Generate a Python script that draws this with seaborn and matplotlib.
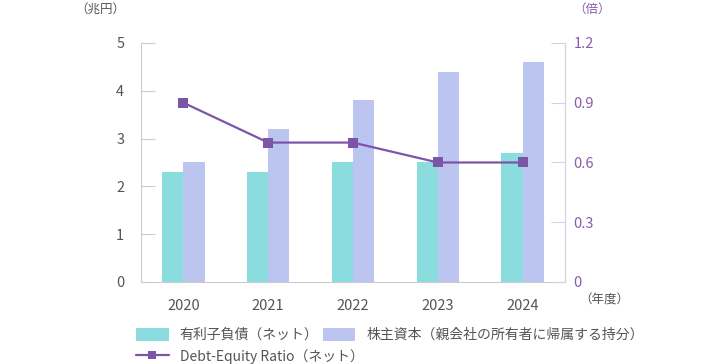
import matplotlib
matplotlib.use("Agg")
import matplotlib.pyplot as plt
import seaborn as sns
import pandas as pd
import numpy as np
from matplotlib.patches import Patch
from matplotlib.lines import Line2D

years = ["2020", "2021", "2022", "2023", "2024"]
debt = [2.3, 2.3, 2.5, 2.5, 2.7]
equity = [2.5, 3.2, 3.8, 4.4, 4.6]
de_ratio = [0.9, 0.7, 0.7, 0.6, 0.6]

debt_label = "有利子負債（ネット）"
equity_label = "株主資本（親会社の所有者に帰属する持分）"
ratio_label = "Debt-Equity Ratio（ネット）"

c_debt = "#8adcdf"
c_equity = "#bcc4f0"
c_line = "#7d55a8"
c_text = "#555555"
c_axis = "#cccccc"

sns.set_theme(style="white")
plt.rcParams["font.family"] = ["Noto Sans CJK JP", "DejaVu Sans"]

df = pd.DataFrame({
    "year": years * 2,
    "value": debt + equity,
    "kind": [debt_label] * len(years) + [equity_label] * len(years),
})

fig = plt.figure(figsize=(7.04, 3.64), dpi=100)
ax = fig.add_axes([0.2003, 0.2253, 0.6023, 0.6566])

sns.barplot(data=df, x="year", y="value", hue="kind", ax=ax,
            palette=[c_debt, c_equity], saturation=1, width=0.5, gap=0,
            linewidth=0, legend=False)
ax.set_xlim(-0.5, len(years) - 0.5)
ax.set_ylim(0, 5)
ax.set_yticks(range(0, 6))
ax.set_xlabel("")
ax.set_ylabel("")
ax.tick_params(axis="y", direction="in", length=10, width=0.8, color=c_axis,
               labelsize=10.5, labelcolor=c_text, pad=12)
ax.tick_params(axis="x", length=0, labelsize=10.5, labelcolor=c_text, pad=12)

ax.spines["top"].set_visible(False)
for s in ["left", "bottom", "right"]:
    ax.spines[s].set_color(c_axis)
    ax.spines[s].set_linewidth(0.8)

ax2 = ax.twinx()
sns.lineplot(x=np.arange(len(years)), y=de_ratio, ax=ax2, color=c_line,
             linewidth=1.6, marker="s", markersize=7, markeredgewidth=0)
ax2.set_ylim(0, 1.2)
ax2.set_yticks([0, 0.3, 0.6, 0.9, 1.2])
ax2.set_yticklabels(["0", "0.3", "0.6", "0.9", "1.2"])
ax2.tick_params(axis="y", direction="in", length=10, width=0.8, color="#d8cfe6",
                labelsize=10.5, labelcolor="#8a5bb0", pad=6)
for s in ["top", "left", "bottom"]:
    ax2.spines[s].set_visible(False)
ax2.spines["right"].set_color("#d8cfe6")
ax2.spines["right"].set_linewidth(0.8)

fig.text(0.143, 0.975, "（兆円）", ha="center", va="center", fontsize=9, color=c_text)
fig.text(0.841, 0.975, "（倍）", ha="center", va="center", fontsize=9, color="#8a5bb0")
fig.text(0.858, 0.176, "（年度）", ha="center", va="center", fontsize=9, color=c_text)

leg_kw = dict(frameon=False, fontsize=10, handlelength=2.37, handleheight=1.08,
              handletextpad=0.8, columnspacing=0.3, borderpad=0, borderaxespad=0,
              labelcolor=c_text)
fig.legend([Patch(facecolor=c_debt, edgecolor="none"),
            Patch(facecolor=c_equity, edgecolor="none")],
           [debt_label, equity_label], ncol=2, loc="center left",
           bbox_to_anchor=(0.1926, 0.0797), **leg_kw)
fig.legend([Line2D([0], [0], color=c_line, linewidth=1.6, marker="s",
                   markersize=6, markeredgewidth=0)],
           [ratio_label], loc="center left",
           bbox_to_anchor=(0.1926, 0.021), **leg_kw)

fig.savefig("out.png", dpi=100)
